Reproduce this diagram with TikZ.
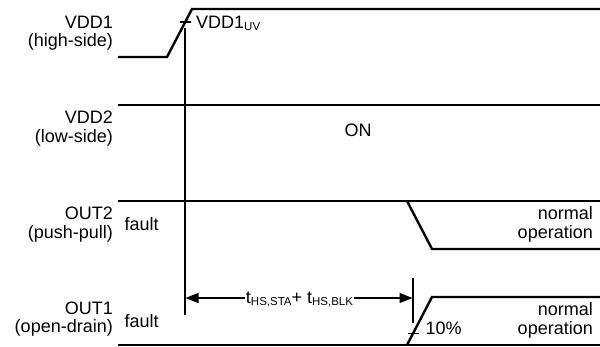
\documentclass[tikz,border=0pt]{standalone}
\usepackage{fontspec}
\setmainfont{Liberation Sans}
\usetikzlibrary{arrows.meta}
\newcommand{\sbs}[1]{\raisebox{-1.2pt}{\fontsize{11.5}{12}\selectfont #1}}
\begin{document}
\begin{tikzpicture}[x=1pt,y=-1pt,
  sig/.style={line width=2.4pt, line join=miter},
  markline/.style={line width=1.4pt},
  lbl/.style={inner sep=0pt, font=\fontsize{18}{19}\selectfont},
  dimline/.style={line width=1.4pt, {Triangle[length=13pt,width=10pt]}-{Triangle[length=13pt,width=10pt]}}]
\useasboundingbox (0,0) rectangle (600,347);
% left labels
\node[lbl, anchor=base east] (l1a) at (113,28.5) {VDD1};
\node[lbl, anchor=base east] (l1b) at (113,46.5) {(high-side)};
\node[lbl, anchor=base east] (l2a) at (113,124) {VDD2};
\node[lbl, anchor=base east] (l2b) at (113,143) {(low-side)};
\node[lbl, anchor=base east] (l3a) at (113,220) {OUT2};
\node[lbl, anchor=base east] (l3b) at (113,239) {(push-pull)};
\node[lbl, anchor=base east] (l4a) at (113,315) {OUT1};
\node[lbl, anchor=base east] (l4b) at (113,333) {(open-drain)};
% VDD1
\draw[sig] (118,57) -- (167,57) -- (192,9) -- (600,9);
\draw[markline] (179.5,22) -- (190.5,22);
\node[lbl, anchor=base west] (uv) at (196,29) {VDD1\sbs{UV}};
% VDD2
\draw[sig] (118,105) -- (600,105);
\node[lbl] (on) at (358,130) {ON};
% OUT2
\draw[sig] (118,201) -- (600,201);
\draw[sig] (407,201) -- (432,249) -- (600,249);
\node[lbl, anchor=base west] (f2) at (124.5,231) {fault};
\node[lbl, anchor=base east] (n2a) at (593,220) {normal};
\node[lbl, anchor=base east] (n2b) at (593,239) {operation};
% OUT1
\draw[sig] (118,345) -- (600,345);
\draw[sig] (407,345) -- (432,297) -- (600,297);
\node[lbl, anchor=base west] (f1) at (124.5,328) {fault};
\node[lbl, anchor=base east] (n1a) at (593,316) {normal};
\node[lbl, anchor=base east] (n1b) at (593,335) {operation};
\draw[markline] (407.5,333.5) -- (418.5,333.5);
\node[lbl, anchor=base west] (pct) at (425.5,335) {10\%};
% markers
\coordinate (m1t) at (185,28);
\coordinate (m1b) at (185,315);
\coordinate (m2t) at (413,278);
\coordinate (m2b) at (413,323);
\draw[markline] (m1t) -- (m1b);
\draw[markline] (m2t) -- (m2b);
\coordinate (a1) at (185.5,298);
\coordinate (a2) at (412.5,298);
\draw[dimline] (a1) -- (a2);
\node[lbl, fill=white, inner xsep=1pt, inner ysep=1.5pt, anchor=base] (tl) at (299.5,304) {t\sbs{HS,STA}+ t\sbs{HS,BLK}};
\end{tikzpicture}
\end{document}
